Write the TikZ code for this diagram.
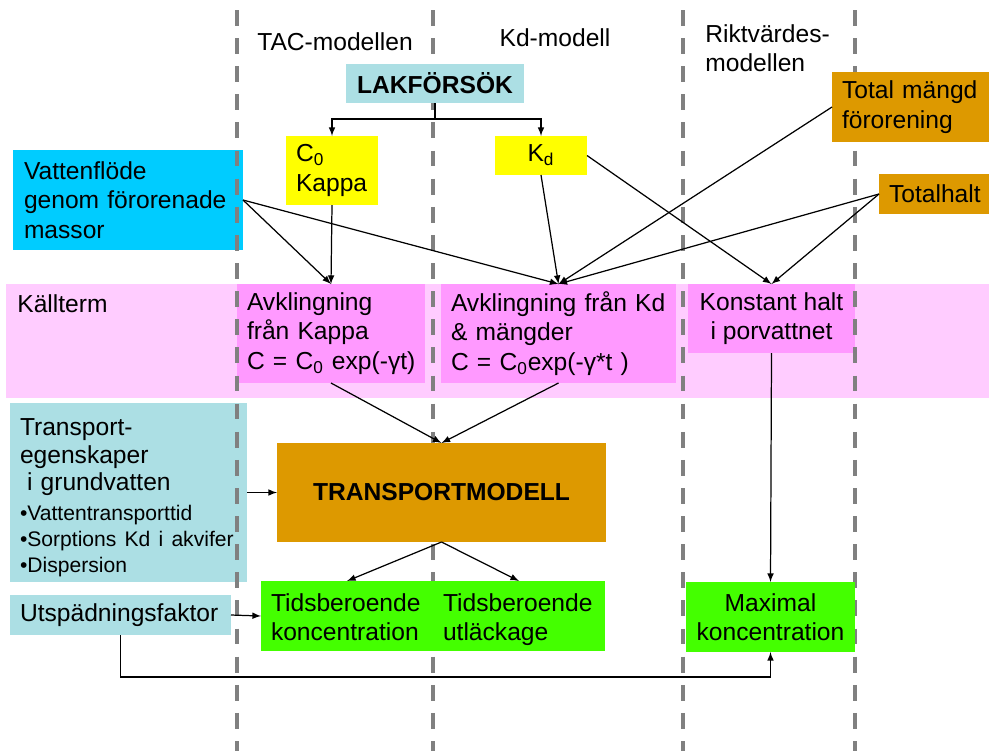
\documentclass[tikz,border=0pt]{standalone}
\usepackage{fontspec}
\setmainfont{Liberation Sans}
\usetikzlibrary{arrows,positioning}

\definecolor{lakblue}{RGB}{172,223,228}
\definecolor{flowcyan}{RGB}{0,204,255}
\definecolor{kappayellow}{RGB}{255,255,0}
\definecolor{totorange}{RGB}{221,153,0}
\definecolor{termpink}{RGB}{255,204,255}
\definecolor{decaypink}{RGB}{255,153,255}
\definecolor{resgreen}{RGB}{68,255,0}
\definecolor{divgray}{RGB}{128,128,128}

\newdimen\px \px=0.2mm
\newcommand{\bigtxt}{\fontsize{14}{16.8}\selectfont\hyphenpenalty=10000\exhyphenpenalty=10000\hbadness=10000\hfuzz=50pt}
\newcommand{\smalltxt}{\fontsize{12}{14.7}\selectfont}

\tikzset{
  box/.style={inner xsep=10\px, inner ysep=0pt, outer sep=0pt, align=left, font=\bigtxt},
  divider/.style={divgray, line width=2.3pt, dash pattern=on 9pt off 7pt},
  link/.style={->, >=latex, line width=0.7pt}
}

\begin{document}
\begin{tikzpicture}[x=0.2mm,y=-0.2mm]
  \useasboundingbox (0,0) rectangle (989,751);
  % kallterm band
  \fill[termpink] (6,284) rectangle (989,398);
  \node[anchor=west, inner sep=0pt, font=\bigtxt] (kallterm) at (17,304) {Källterm};
  % boxes under the dividers
  \node[box, fill=kappayellow, minimum width=92\px, minimum height=69\px, text width=72\px] (c0) at (332,170.5) {C\textsubscript{0}\\Kappa};
  \node[box, fill=kappayellow, minimum width=92\px, minimum height=39\px, align=center] (kd) at (541,155.5) {K\textsubscript{d}};
  \node[box, fill=flowcyan, minimum width=230\px, minimum height=100\px, text width=208\px, inner xsep=11\px] (vatten) at (128,200) {Vattenflöde\\genom förorenade\\massor};
  \node[box, fill=decaypink, minimum width=188\px, minimum height=99\px, text width=168\px] (avkappa) at (331,333.5) {Avklingning\\från Kappa\\\mbox{C = C\textsubscript{0} exp(-γt)}};
  \node[box, fill=decaypink, minimum width=235\px, minimum height=99\px, text width=215\px] (avkd) at (558.5,333.5) {Avklingning från Kd\\\& mängder\\\mbox{C = C\textsubscript{0}exp(-γ*t )}};
  \node[box, fill=decaypink, minimum width=167\px, minimum height=69\px, align=center] (konst) at (771.5,318.5) {Konstant halt\\i porvattnet};
  \node[box, fill=lakblue, minimum width=237\px, minimum height=179\px, text width=217\px] (transpeg) at (128.5,492.5) {\rule{0pt}{17.5pt}Transport-\\[-1.2pt]egenskaper\\[-1.2pt]\hspace*{4pt}i grundvatten\\[0.3pt]{\smalltxt\begin{tabular}[t]{@{}l@{}}•Vattentransporttid\\•Sorptions Kd i akvifer\\•Dispersion\end{tabular}}};
  \node[box, fill=lakblue, minimum width=221\px, minimum height=40\px, text width=201\px] (utsp) at (120.5,615) {Utspädningsfaktor};
  % dividers between the models
  \foreach \x in {237,433,683,855} \draw[divider] (\x,10) -- (\x,751);
  % boxes over the dividers
  \node[box, fill=lakblue, minimum width=178\px, minimum height=39\px, align=center, font=\bigtxt\bfseries] (lak) at (435,83.5) {LAKFÖRSÖK};
  \node[box, fill=totorange, minimum width=157\px, minimum height=70\px, text width=137\px] (totmangd) at (910.5,107) {Total mängd\\förorening};
  \node[box, fill=totorange, minimum width=110\px, minimum height=40\px, text width=90\px] (totalhalt) at (934,194) {Totalhalt};
  \node[box, fill=totorange, minimum width=329\px, minimum height=99\px, align=center, font=\bigtxt\bfseries] (transport) at (441.5,492.5) {TRANSPORTMODELL};
  \node[box, fill=resgreen, minimum width=172\px, minimum height=70\px, text width=152\px] (tidkonc) at (347,616) {\rule{0pt}{14pt}Tidsberoende\\koncentration\vphantom{g}};
  \node[box, fill=resgreen, minimum width=172\px, minimum height=70\px, text width=152\px] (tidutl) at (519,616) {\rule{0pt}{14pt}Tidsberoende\\utläckage};
  \node[box, fill=resgreen, minimum width=169\px, minimum height=70\px, align=center] (maxk) at (770.5,617) {Maximal\\koncentration};
  % model headings
  \node[font=\bigtxt, inner sep=0pt] (tac) at (335,42) {TAC-modellen};
  \node[font=\bigtxt, inner sep=0pt] (kdmod) at (555,38) {Kd-modell};
  \node[font=\bigtxt, inner sep=0pt, anchor=west, align=left] (rikt) at (705,48) {Riktvärdes-\\modellen};
  % connectors
  \coordinate (split) at (435,119);
  \draw[line width=0.7pt] (lak.south) -- (split);
  \draw[link] (split) -| (c0.north);
  \draw[link] (split) -| (kd.north);
  \draw[link] (vatten.east) -- (avkappa.north);
  \draw[link] (vatten.east) -- (avkd.north);
  \draw[link] (c0.south) -- (avkappa.north);
  \draw[link] (kd.south) -- (avkd.north);
  \draw[link] (kd.east) -- (konst.north);
  \draw[link] (totmangd.west) -- (avkd.north);
  \draw[link] (totalhalt.west) -- (avkd.north);
  \draw[link] (totalhalt.west) -- (konst.north);
  \draw[link] (avkappa.south) -- (transport.north);
  \draw[link] (avkd.south) -- (transport.north);
  \draw[link] (transpeg.east) -- (transport.west);
  \draw[link] (transport.south) -- (tidkonc.north);
  \draw[link] (transport.south) -- (tidutl.north);
  \draw[link] (konst.south) -- (maxk.north);
  \draw[link] (utsp.east) -- (tidkonc.west);
  \draw[link] (utsp.south) -- ++(0,42) -| (maxk.south);
\end{tikzpicture}
\end{document}
